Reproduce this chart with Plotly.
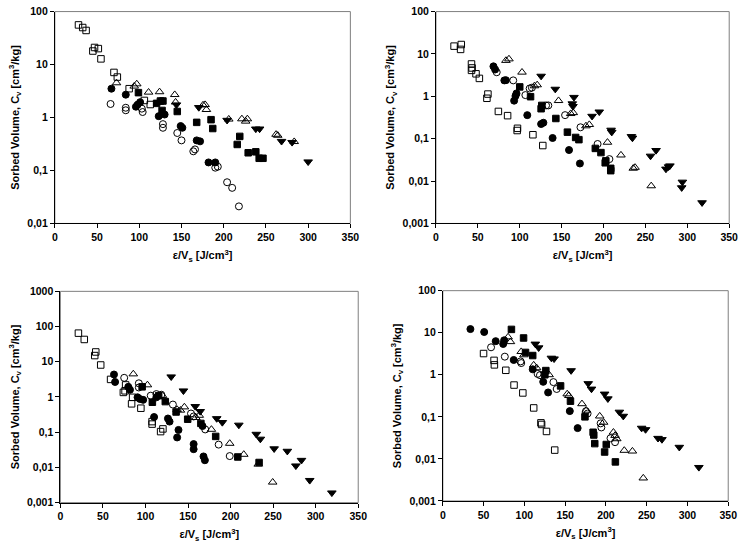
import math
import plotly.graph_objects as go

# ---------------- Panel 1 (top-left) ----------------
p1_osq_x = [28, 33, 37, 45, 47, 51.5, 54.6, 70, 74, 88, 106, 113]
p1_osq_y = [56, 50, 44, 18, 21, 20, 12.8, 7.1, 5.8, 3.5, 2.1, 1.76]
p1_fci_x = [67, 84, 96, 98, 101, 123, 130, 149, 151, 168, 172, 182, 190]
p1_fci_y = [3.5, 2.7, 1.6, 1.75, 1.95, 1.06, 1.14, 0.69, 0.64, 0.37, 0.355, 0.142, 0.142]
p1_oci_x = [66, 84, 84, 103, 104, 128, 128, 145, 150, 164, 166, 190, 193, 204, 210, 218]
p1_oci_y = [1.8, 1.53, 1.37, 1.47, 1.27, 0.75, 0.64, 0.51, 0.37, 0.23, 0.25, 0.113, 0.118, 0.06, 0.047, 0.021]
p1_fsq_x = [99, 120.5, 125, 128, 127, 145, 168, 185, 187, 219, 216, 229, 238, 242, 246.5]
p1_fsq_y = [2.95, 1.85, 2.05, 2.05, 1.36, 1.3, 0.81, 0.91, 0.62, 0.44, 0.31, 0.216, 0.225, 0.17, 0.17]
p1_otr_x = [73, 94, 97, 111, 124, 142, 143, 175.5, 178, 179.5, 206, 221.5, 226, 228, 262, 264, 283.5]
p1_otr_y = [4.5, 3.9, 4.3, 3.0, 3.05, 2.7, 1.95, 1.72, 1.75, 1.41, 0.93, 0.94, 0.85, 0.94, 0.48, 0.46, 0.35]
p1_ftr_x = [144, 170.5, 204, 238, 242.5, 268.5, 281, 300]
p1_ftr_y = [1.74, 1.55, 0.89, 0.61, 0.61, 0.356, 0.34, 0.146]

# ---------------- Panel 2 (top-right) ----------------
p2_osq_x = [21.6, 30.2, 29.4, 42.4, 43.1, 42.4, 47.8, 51.8, 62, 60.8, 74.5, 85.5, 97.3, 96.9, 115.7, 127.5]
p2_osq_y = [15.3, 16.7, 12.8, 5.8, 4.67, 4.1, 3.4, 2.65, 1.13, 0.9, 0.44, 0.35, 0.176, 0.156, 0.124, 0.069]
p2_fci_x = [68.6, 70.6, 81.6, 83.5, 96.1, 94.9, 93.3, 109, 125.5, 128.2, 139.2, 158.8, 171.8]
p2_fci_y = [5.1, 4.3, 2.38, 2.4, 1.17, 1.02, 0.79, 0.36, 0.222, 0.238, 0.104, 0.054, 0.026]
p2_oci_x = [72.5, 92.2, 106.7, 111.8, 114.5, 131.4, 134.1, 154.1, 172.5, 192.9, 207]
p2_oci_y = [3.7, 2.38, 1.07, 1.53, 1.6, 0.61, 0.61, 0.36, 0.186, 0.075, 0.033]
p2_fsq_x = [100, 112.9, 126.3, 125.5, 143.1, 156.9, 166.7, 170.6, 190.2, 196.9, 202.7, 202, 208.6, 208.6]
p2_fsq_y = [1.67, 0.98, 0.61, 0.51, 0.3, 0.143, 0.107, 0.095, 0.059, 0.047, 0.03, 0.027, 0.02, 0.0176]
p2_otr_x = [83.5, 87.1, 102.7, 117.5, 120.8, 146.3, 160.8, 163.9, 179, 183, 204.7, 220.8, 235.5, 237.6, 256.9]
p2_otr_y = [7.0, 7.6, 3.7, 1.76, 1.86, 0.79, 0.39, 0.41, 0.2, 0.215, 0.082, 0.041, 0.02, 0.021, 0.0077]
p2_ftr_x = [125.5, 142.4, 164.7, 162.7, 163.5, 186.3, 194.9, 209, 209.8, 233.3, 234.5, 256.1, 262.7,
            274.5, 277.6, 279.2, 294.1, 293.3, 317.6]
p2_ftr_y = [3.0, 1.48, 0.95, 0.67, 0.58, 0.34, 0.43, 0.16, 0.143, 0.113, 0.104, 0.039, 0.053,
            0.0193, 0.0218, 0.023, 0.0095, 0.007, 0.0031]

# ---------------- Panel 3 (bottom-left) ----------------
p3_osq_x = [21.2, 28.1, 41.6, 40.4, 47.4, 59, 76.7, 76, 74, 84.9, 83.7, 94.6, 107.8, 107.8, 117.8, 120.5]
p3_osq_y = [65, 43, 19, 15, 8.1, 3.16, 2.2, 1.5, 1.35, 0.98, 0.64, 0.48, 0.2, 0.17, 0.104, 0.124]
p3_fci_x = [63, 64.3, 79.8, 81.8, 90.7, 93.4, 97.3, 112.8, 110.1, 126.4, 128.3, 138.8, 137.2, 156.6,
            156.6, 167, 168.2, 169.8]
p3_fci_y = [4.35, 2.67, 1.94, 1.6, 0.98, 0.88, 0.83, 0.98, 0.27, 0.245, 0.2, 0.116, 0.071, 0.046,
            0.033, 0.15, 0.0205, 0.016]
p3_oci_x = [75, 92.2, 92.2, 106.2, 112.8, 118.6, 132.2, 153.5, 156.6, 170.2, 186, 199]
p3_oci_y = [3.5, 2.45, 1.86, 1.09, 1.21, 1.16, 0.61, 0.34, 0.28, 0.12, 0.0445, 0.021]
p3_fsq_x = [96.1, 108.1, 115.5, 123.3, 136, 149.6, 165.1, 182.5, 208.5, 233.5]
p3_fsq_y = [1.94, 0.71, 1.09, 0.74, 0.375, 0.234, 0.178, 0.076, 0.0198, 0.0138]
p3_otr_x = [85.7, 102.3, 120, 137.2, 141.1, 145.7, 159.3, 163.2, 177.5, 199, 215.5, 232.5, 249.5]
p3_otr_y = [4.5, 2.2, 1.1, 0.44, 0.42, 0.52, 0.26, 0.3, 0.12, 0.048, 0.0234, 0.0123, 0.0038]
p3_ftr_x = [130.2, 144.6, 158.5, 164.3, 183.7, 190.3, 209.7, 230.2, 235, 251.2, 266.7, 276.7, 283.3, 293, 319]
p3_ftr_y = [3.75, 1.5, 0.54, 0.39, 0.245, 0.19, 0.16, 0.088, 0.064, 0.034, 0.029, 0.0111, 0.016, 0.0043, 0.0019]

# ---------------- Panel 4 (bottom-right) ----------------
p4_osq_x = [49.9, 62.8, 63.2, 77.2, 87.3, 98.1, 111.4, 120.3, 121.1, 127.1, 137.2]
p4_osq_y = [3.2, 2.2, 1.72, 1.28, 0.57, 0.37, 0.163, 0.072, 0.066, 0.045, 0.0162]
p4_fci_x = [33.8, 50.7, 64.8, 75.2, 74, 86.9, 110.2, 123.1, 129.1, 155.7, 165.3]
p4_fci_y = [12.2, 10.4, 6.3, 6.6, 5.4, 2.25, 1.35, 0.68, 0.38, 0.137, 0.054]
p4_oci_x = [59.1, 76, 95.3, 96.1, 116.2, 119.1, 135.6, 139.6, 175.5, 177.5, 193.5, 194.4, 205.6, 211.2]
p4_oci_y = [4.5, 2.7, 2.08, 1.9, 1.05, 0.98, 0.67, 0.46, 0.136, 0.12, 0.07, 0.056, 0.031, 0.025]
p4_fsq_x = [84.1, 99, 101.4, 110.2, 126.3, 125.1, 144.4, 156.5, 174.3, 184.3, 185.1, 186.3, 200.4, 198.4, 211.6]
p4_fsq_y = [12, 7.5, 3.4, 2.87, 1.26, 1.0, 0.545, 0.236, 0.1, 0.043, 0.037, 0.0231, 0.022, 0.0146, 0.0085]
p4_otr_x = [80, 82.9, 96.1, 99.4, 111.4, 115, 130.3, 152.5, 154.5, 170.6, 175.8, 192.4, 197.2, 209.2,
            211.2, 213.3, 222.5, 232.5, 245.8]
p4_otr_y = [7.9, 6.1, 3.55, 2.97, 1.7, 1.46, 1.0, 0.35, 0.32, 0.204, 0.143, 0.104, 0.074, 0.043,
            0.036, 0.03, 0.0159, 0.0153, 0.0035]
p4_ftr_x = [113.4, 117.5, 133.1, 136.4, 157.3, 178.3, 182.3, 198.4, 202.4, 216.5, 221.3, 243.8, 248.6,
            263.9, 268.7, 290, 314]
p4_ftr_y = [5.4, 4.4, 2.5, 2.4, 1.26, 0.62, 0.46, 0.35, 0.27, 0.13, 0.104, 0.054, 0.05,
            0.031, 0.029, 0.019, 0.0063]

x_ticks = [0, 50, 100, 150, 200, 250, 300, 350]
y_tick_vals = [0.001, 0.01, 0.1, 1, 10, 100, 1000]
y_tick_text = ["0,001", "0,01", "0,1", "1", "10", "100", "1000"]

x_title = "<b>ε/V<sub>s</sub> [J/cm<sup>3</sup>]</b>"
y_title = "<b>Sorbed Volume, C<sub>v</sub> [cm<sup>3</sup>/kg]</b>"

W, H = 751, 551
# plot-area pixel boxes: (left, right, top, bottom), y log range
panels = [
    dict(box=(52.7, 353, 5.7, 222.3), yr=(-2, 2),
         data=[(p1_osq_x, p1_osq_y), (p1_fci_x, p1_fci_y), (p1_oci_x, p1_oci_y),
               (p1_fsq_x, p1_fsq_y), (p1_otr_x, p1_otr_y), (p1_ftr_x, p1_ftr_y)]),
    dict(box=(440, 738, 5.7, 222.3), yr=(-3, 2),
         data=[(p2_osq_x, p2_osq_y), (p2_fci_x, p2_fci_y), (p2_oci_x, p2_oci_y),
               (p2_fsq_x, p2_fsq_y), (p2_otr_x, p2_otr_y), (p2_ftr_x, p2_ftr_y)]),
    dict(box=(58.3, 361, 291.7, 507.7), yr=(-3, 3),
         data=[(p3_osq_x, p3_osq_y), (p3_fci_x, p3_fci_y), (p3_oci_x, p3_oci_y),
               (p3_fsq_x, p3_fsq_y), (p3_otr_x, p3_otr_y), (p3_ftr_x, p3_ftr_y)]),
    dict(box=(447, 737, 291, 506), yr=(-3, 2),
         data=[(p4_osq_x, p4_osq_y), (p4_fci_x, p4_fci_y), (p4_oci_x, p4_oci_y),
               (p4_fsq_x, p4_fsq_y), (p4_otr_x, p4_otr_y), (p4_ftr_x, p4_ftr_y)]),
]

symbols = ["square-open", "circle", "circle-open", "square", "triangle-up-open", "triangle-down"]
sizes = [6.5, 7, 7, 6.5, 7.5, 7.5]

font_family = "Liberation Sans, Arial, sans-serif"
fig = go.Figure()
layout = dict(width=W, height=H, margin=dict(l=0, r=0, t=0, b=0),
              paper_bgcolor="white", plot_bgcolor="white", showlegend=False,
              font=dict(family=font_family, size=11, color="black"), shapes=[])

for i, p in enumerate(panels):
    n = "" if i == 0 else str(i + 1)
    l, r, t, b = p["box"]
    xd = [l / W, r / W]
    yd = [1 - b / H, 1 - t / H]
    for (xs, ys), sym, sz in zip(p["data"], symbols, sizes):
        fig.add_trace(go.Scatter(
            x=xs, y=ys, mode="markers", xaxis="x" + n, yaxis="y" + n,
            marker=dict(symbol=sym, size=sz, color="black",
                        line=dict(color="black", width=1)),
            hoverinfo="x+y"))
    tv = [v for v in y_tick_vals if p["yr"][0] - 1e-9 <= math.log10(v) <= p["yr"][1] + 1e-9]
    tt = [y_tick_text[y_tick_vals.index(v)] for v in tv]
    layout["xaxis" + n] = dict(
        domain=xd, range=[0, 350], anchor="y" + n, tickvals=x_ticks,
        showline=True, linecolor="black", linewidth=1, ticks="outside", ticklen=4,
        tickcolor="black", showgrid=False, zeroline=False,
        tickfont=dict(size=10.5, weight="bold", family=font_family),
        title=dict(text=x_title, standoff=9, font=dict(size=11, family=font_family)))
    layout["yaxis" + n] = dict(
        domain=yd, type="log", range=list(p["yr"]), anchor="x" + n,
        tickvals=tv, ticktext=tt,
        showline=True, linecolor="black", linewidth=1, ticks="outside", ticklen=4,
        tickcolor="black", showgrid=False, zeroline=False,
        tickfont=dict(size=10.5, weight="bold", family=font_family),
        title=dict(text=y_title, standoff=5, font=dict(size=11, family=font_family)))
    layout["shapes"].append(dict(
        type="rect", xref="x" + n + " domain", yref="y" + n + " domain",
        x0=0, x1=1, y0=0, y1=1, line=dict(color="#7f7f7f", width=1), layer="below"))

fig.update_layout(**layout)
fig.write_html("out.html", config={"displayModeBar": False},
               post_script="document.body.style.margin='0';document.body.style.overflow='hidden';")
